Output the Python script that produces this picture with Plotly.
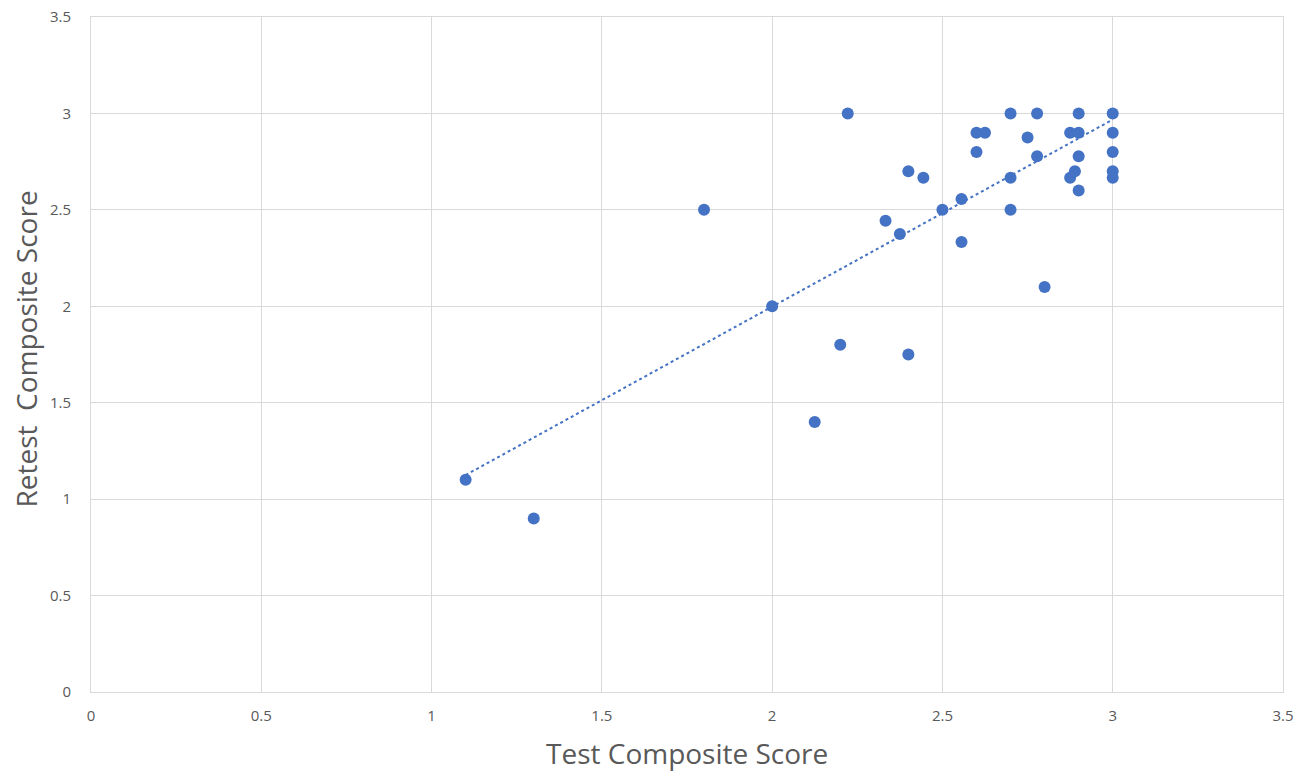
import plotly.graph_objects as go

test_scores = [1.1, 1.3, 1.8, 2.0, 2.125, 2.2, 2.222, 2.333, 2.375, 2.4, 2.4, 2.444,
               2.5, 2.556, 2.556, 2.6, 2.6, 2.625, 2.7, 2.7, 2.7, 2.75, 2.778, 2.778,
               2.8, 2.875, 2.875, 2.889, 2.9, 2.9, 2.9, 2.9, 3.0, 3.0, 3.0, 3.0, 3.0]
retest_scores = [1.1, 0.9, 2.5, 2.0, 1.4, 1.8, 3.0, 2.444, 2.375, 2.7, 1.75, 2.667,
                 2.5, 2.556, 2.333, 2.9, 2.8, 2.9, 3.0, 2.667, 2.5, 2.875, 3.0, 2.778,
                 2.1, 2.9, 2.667, 2.7, 3.0, 2.9, 2.778, 2.6, 3.0, 2.9, 2.8, 2.7, 2.667]

# linear trendline endpoints
trend_x = [1.1, 3.0]
trend_y = [1.125, 2.968]

x_title = "Test Composite Score"
y_title = "Retest\u00a0\u00a0Composite Score"
tick_vals = [0, 0.5, 1, 1.5, 2, 2.5, 3, 3.5]
tick_text = ["0", "0.5", "1", "1.5", "2", "2.5", "3", "3.5"]

blue = "#4472C4"
grey_text = "#595959"
grid = "#D9D9D9"

fig = go.Figure()
fig.add_trace(go.Scatter(x=test_scores, y=retest_scores, mode="markers",
                         marker=dict(color=blue, size=12, line=dict(width=0)),
                         showlegend=False))
fig.add_trace(go.Scatter(x=trend_x, y=trend_y, mode="lines",
                         line=dict(color=blue, width=2, dash="dot"),
                         showlegend=False))

axis_common = dict(
    range=[0, 3.5], tickvals=tick_vals, ticktext=tick_text,
    showgrid=True, gridcolor=grid, gridwidth=1,
    zeroline=False, showline=True, mirror=True, linecolor=grid, linewidth=1,
    ticks="", ticklabeloverflow="allow", automargin=False,
    tickfont=dict(family="Open Sans", size=15, color=grey_text),
)

fig.update_xaxes(**axis_common, ticklabelstandoff=10)
fig.update_yaxes(**axis_common, ticklabelstandoff=16)

title_font = dict(family="Open Sans", size=28, color=grey_text)
fig.add_annotation(text=x_title, xref="paper", yref="paper", x=0.5, y=0,
                   xanchor="center", yanchor="middle", yshift=-61, borderpad=0,
                   showarrow=False, font=title_font)
fig.add_annotation(text=y_title, xref="paper", yref="paper", x=0, y=0.5,
                   xanchor="center", yanchor="middle", xshift=-66, yshift=5, borderpad=0,
                   textangle=-90, showarrow=False, font=title_font)

fig.update_layout(
    width=1310, height=773,
    margin=dict(l=91, r=27, t=17, b=81),
    plot_bgcolor="white", paper_bgcolor="white",
    font=dict(family="Open Sans", color=grey_text),
)

fig.write_html("out.html", config={"displayModeBar": False},
               post_script="document.body.style.margin='0';document.body.style.overflow='hidden';")
